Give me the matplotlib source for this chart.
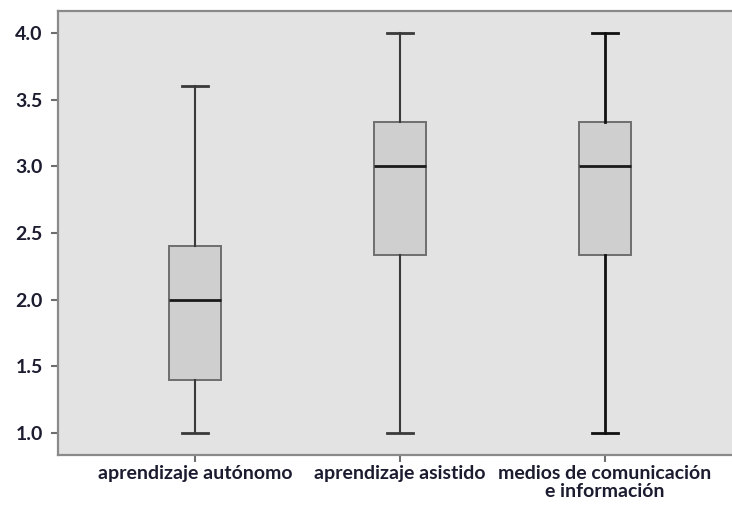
import matplotlib
matplotlib.use('Agg')
import matplotlib.pyplot as plt

# --- data ---
categories = ["aprendizaje autónomo", "aprendizaje asistido", "medios de comunicación\ne información"]
whisker_low = [1.0, 1.0, 1.0]
q1 = [1.4, 2.333, 2.333]
median = [2.0, 3.0, 3.0]
q3 = [2.4, 3.333, 3.333]
whisker_high = [3.6, 4.0, 4.0]
y_ticks = [1.0, 1.5, 2.0, 2.5, 3.0, 3.5, 4.0]

TEXT_COLOR = '#1c1c30'
BG = '#e3e3e3'

stats = []
for i, name in enumerate(categories):
    stats.append({
        'label': name,
        'whislo': whisker_low[i], 'q1': q1[i], 'med': median[i],
        'q3': q3[i], 'whishi': whisker_high[i], 'fliers': [],
    })

fig = plt.figure(figsize=(7.32, 5.07), dpi=100)
ax = fig.add_axes([58 / 732, 1 - 455 / 507, (740 - 58) / 732, (455 - 11) / 507])
ax.set_facecolor(BG)

bp = ax.bxp(stats, positions=[1, 2, 3], widths=0.25, patch_artist=True,
            showfliers=False,
            boxprops=dict(facecolor='#cfcfcf', edgecolor='#6e6e6e', linewidth=1.4),
            medianprops=dict(color='#1a1a1a', linewidth=2),
            whiskerprops=dict(color='#3a3a3a', linewidth=1.5),
            capprops=dict(color='#3a3a3a', linewidth=2))

# third group is drawn heavier in the original
for line in bp['whiskers'][4:6] + bp['caps'][4:6]:
    line.set_color('#111111')
    line.set_linewidth(2.0)

ax.set_xlim(1 - 137 / 205, 1 + (740 - 195) / 205)
ax.set_ylim(1.0 - 22 / 133.3, 4.0 + 22 / 133.3)
ax.set_yticks(y_ticks)
ax.set_yticklabels([f"{v:.1f}" for v in y_ticks])
ax.set_xticks([1, 2, 3])
ax.set_xticklabels(categories, linespacing=1.1)

for spine in ['left', 'bottom', 'top']:
    ax.spines[spine].set_color('#8a8a8a')
    ax.spines[spine].set_linewidth(1.6)
ax.spines['right'].set_visible(False)

ax.tick_params(axis='both', colors='#6e6e6e', length=5, width=1.5)
ax.tick_params(axis='y', pad=6)
ax.tick_params(axis='x', pad=2)
for lbl in ax.get_yticklabels():
    lbl.set_fontsize(14)
for lbl in ax.get_xticklabels():
    lbl.set_fontsize(14)
for lbl in ax.get_yticklabels() + ax.get_xticklabels():
    lbl.set_fontfamily('Lato')
    lbl.set_fontweight('bold')
    lbl.set_color(TEXT_COLOR)

fig.savefig('out.png', dpi=100, facecolor='white')
